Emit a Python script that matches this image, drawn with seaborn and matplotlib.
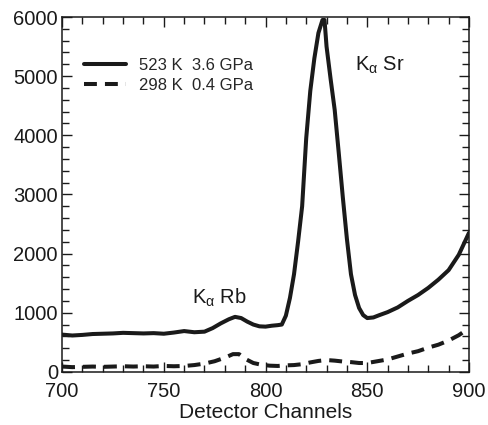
import numpy as np
import pandas as pd
import matplotlib
matplotlib.use('Agg')
import matplotlib.pyplot as plt
from matplotlib.ticker import MultipleLocator
import seaborn as sns

# spectrum, counts per detector channel
hot_ch = [700, 705, 710, 715, 720, 725, 730, 735, 740, 745, 750, 755, 760, 765, 770,
          774, 778, 782, 785, 788, 791, 794, 797, 800, 803, 806, 808, 810, 812, 814,
          816, 818, 820, 822, 824, 826, 828, 829, 830, 832, 834, 836, 838, 840, 842,
          844, 846, 848, 850, 853, 856, 860, 865, 870, 875, 880, 885, 890, 895, 900]
hot_counts = [630, 615, 625, 640, 645, 650, 660, 655, 650, 655, 645, 665, 690, 670, 680,
              740, 820, 890, 930, 910, 850, 800, 770, 765, 780, 790, 800, 950, 1250, 1650,
              2200, 2800, 3950, 4750, 5300, 5730, 5950, 5950, 5500, 4950, 4430, 3700, 2950, 2250, 1650,
              1300, 1080, 960, 910, 920, 960, 1010, 1090, 1200, 1300, 1420, 1560, 1720, 1980, 2350]

cold_ch = [700, 705, 710, 715, 720, 725, 730, 735, 740, 745, 750, 755, 760, 765, 770,
           775, 780, 784, 787, 790, 794, 798, 802, 806, 810, 814, 818, 822, 826, 830,
           834, 838, 842, 846, 850, 855, 860, 865, 870, 875, 880, 885, 890, 895, 900]
cold_counts = [90, 80, 85, 90, 85, 90, 95, 90, 95, 90, 100, 95, 100, 115, 140,
               180, 240, 300, 300, 220, 150, 120, 105, 100, 110, 115, 130, 160, 185, 200,
               190, 175, 165, 150, 150, 180, 210, 260, 310, 350, 410, 460, 530, 620, 740]

labels = ['523 K  3.6 GPa', '298 K  0.4 GPa']

df = pd.concat([
    pd.DataFrame({'channel': hot_ch, 'counts': hot_counts, 'run': labels[0]}),
    pd.DataFrame({'channel': cold_ch, 'counts': cold_counts, 'run': labels[1]}),
])

sns.set_style('ticks')
plt.rcParams['font.family'] = ['Liberation Sans', 'DejaVu Sans']
plt.rcParams['mathtext.fontset'] = 'custom'
plt.rcParams['mathtext.rm'] = 'Liberation Sans'
plt.rcParams['mathtext.it'] = 'Liberation Sans'

ink = '#1a1a1a'

fig = plt.figure(figsize=(4.89, 4.25), dpi=100)
ax = fig.add_axes([0.127, 0.125, 0.832, 0.835])

sns.lineplot(data=df, x='channel', y='counts', style='run', style_order=labels,
             dashes={labels[0]: '', labels[1]: (3.2, 2.0)}, color=ink,
             linewidth=2.9, errorbar=None, ax=ax)

ax.set_xlim(700, 900)
ax.set_ylim(0, 6000)
ax.xaxis.set_major_locator(MultipleLocator(50))
ax.xaxis.set_minor_locator(MultipleLocator(10))
ax.yaxis.set_major_locator(MultipleLocator(1000))
ax.yaxis.set_minor_locator(MultipleLocator(200))
ax.tick_params(which='both', direction='in', top=True, right=True, colors=ink,
               labelsize=14.5)
ax.tick_params(axis='x', pad=7)
ax.tick_params(axis='y', pad=3)
ax.tick_params(which='major', length=7, width=1)
ax.tick_params(which='minor', length=5, width=1)
for s in ax.spines.values():
    s.set_linewidth(1.1)
    s.set_color(ink)

ax.set_xlabel('Detector Channels', fontsize=15, color=ink, labelpad=2)
ax.set_ylabel('')

ax.text(764, 1150, r'K$_\alpha$ Rb', fontsize=14.5, color=ink)
ax.text(844, 5100, r'K$_\alpha$ Sr', fontsize=14.5, color=ink)

ax.legend(loc='upper left', bbox_to_anchor=(0.055, 0.885), frameon=False, fontsize=12,
          handlelength=2.5, handletextpad=0.75, labelspacing=0.3, borderpad=0,
          borderaxespad=0, title=None)

fig.savefig('out.png', dpi=100)
